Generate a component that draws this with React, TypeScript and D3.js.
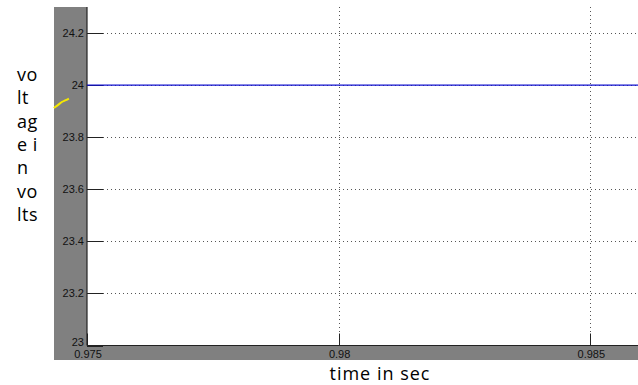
import React from "react";
import * as d3 from "d3";

// Axis ticks
const xTicks = [0.975, 0.98, 0.985];
const xTickLabels = ["0.975", "0.98", "0.985"];
const yTicks = [23, 23.2, 23.4, 23.6, 23.8, 24, 24.2];
const yTickLabels = ["23", "23.2", "23.4", "23.6", "23.8", "24", "24.2"];

// Output voltage (steady at 24 V over the window)
const outTime = [0.975, 0.9775, 0.98, 0.9825, 0.985, 0.986];
const outVolts = [24, 24, 24, 24, 24, 24];

// Reference trace segment visible at the left edge
const refTime = [0.97434, 0.97442, 0.9745, 0.97458, 0.97464];
const refVolts = [23.912, 23.923, 23.935, 23.942, 23.948];

// Axis title split across lines as typeset
const yTitleLines = ["vo", "lt", "ag", "e i", "n", "vo", "lts"];
const xTitle = "time in sec";

const W = 638;
const H = 385;
const plotLeft = 87;
const plotTop = 7;
const plotBottom = 345.5;

export default function App() {
  const x = d3.scaleLinear().domain([0.975, 0.985]).range([plotLeft, 590.3]);
  const y = d3.scaleLinear().domain([23, 24.2]).range([plotBottom, 33]);

  const outLine = d3
    .line<number>()
    .x((_, i) => x(outTime[i]))
    .y((d) => y(d));
  const refLine = d3
    .line<number>()
    .x((_, i) => x(refTime[i]))
    .y((d) => y(d))
    .curve(d3.curveMonotoneX);

  const tickFont = "'Liberation Sans', Arial, sans-serif";
  const titleFont = "'Open Sans', 'Noto Sans', sans-serif";

  return (
    <svg
      width={W}
      height={H}
      style={{ position: "absolute", left: 0, top: 0, background: "#fff" }}
    >
      {/* grey axis frame */}
      <rect x={54} y={plotTop} width={plotLeft - 54} height={360 - plotTop} fill="#808080" />
      <rect x={54} y={plotBottom} width={W - 54} height={360 - plotBottom} fill="#808080" />
      <rect x={plotLeft} y={plotTop} width={W - plotLeft} height={plotBottom - plotTop} fill="#fff" />

      {/* grid */}
      {yTicks.slice(1).map((t) => (
        <line
          key={"gy" + t}
          x1={plotLeft}
          x2={W}
          y1={Math.round(y(t)) + 0.5}
          y2={Math.round(y(t)) + 0.5}
          stroke="#555"
          strokeWidth={1}
          strokeDasharray="1,3"
        />
      ))}
      {xTicks.slice(1).map((t) => (
        <line
          key={"gx" + t}
          x1={Math.round(x(t)) + 0.5}
          x2={Math.round(x(t)) + 0.5}
          y1={plotTop}
          y2={plotBottom}
          stroke="#555"
          strokeWidth={1}
          strokeDasharray="1,3"
        />
      ))}

      {/* tick marks */}
      {yTicks.map((t) => (
        <line
          key={"ty" + t}
          x1={plotLeft}
          x2={plotLeft + 16}
          y1={Math.round(y(t)) + 0.5}
          y2={Math.round(y(t)) + 0.5}
          stroke="#222"
          strokeWidth={1}
        />
      ))}
      {xTicks.map((t) => (
        <line
          key={"tx" + t}
          x1={Math.round(x(t)) + 0.5}
          x2={Math.round(x(t)) + 0.5}
          y1={plotBottom}
          y2={plotBottom - 12}
          stroke="#222"
          strokeWidth={1}
        />
      ))}

      {/* axis lines */}
      <line x1={plotLeft} x2={plotLeft} y1={plotTop} y2={plotBottom} stroke="#222" strokeWidth={1.2} />
      <line x1={plotLeft} x2={W} y1={plotBottom} y2={plotBottom} stroke="#222" strokeWidth={1} />

      {/* output voltage */}
      <path d={outLine(outVolts) || ""} fill="none" stroke="#1010d0" strokeWidth={1.3} />

      {/* reference trace */}
      <path d={refLine(refVolts) || ""} fill="none" stroke="#f5e800" strokeWidth={2} />

      {/* tick labels */}
      {yTicks.map((t, i) => (
        <text
          key={"ly" + t}
          x={84}
          y={y(t) - (i === 0 ? 3 : 0)}
          dy="0.35em"
          textAnchor="end"
          fontFamily={tickFont}
          fontSize={11}
          fill="#111"
        >
          {yTickLabels[i]}
        </text>
      ))}
      {xTicks.map((t, i) => (
        <text
          key={"lx" + t}
          x={x(t) + 1}
          y={358}
          textAnchor="middle"
          fontFamily={tickFont}
          fontSize={11}
          fill="#111"
        >
          {xTickLabels[i]}
        </text>
      ))}

      {/* axis titles */}
      {yTitleLines.map((s, i) => (
        <text
          key={"yt" + i}
          x={17}
          y={81 + i * 23.3}
          fontFamily={titleFont}
          fontSize={18}
          letterSpacing={0.5}
          fill="#000"
        >
          {s}
        </text>
      ))}
      <text
        x={380}
        y={380}
        textAnchor="middle"
        fontFamily={titleFont}
        fontSize={18}
        letterSpacing={1}
        fill="#000"
      >
        {xTitle}
      </text>
    </svg>
  );
}
